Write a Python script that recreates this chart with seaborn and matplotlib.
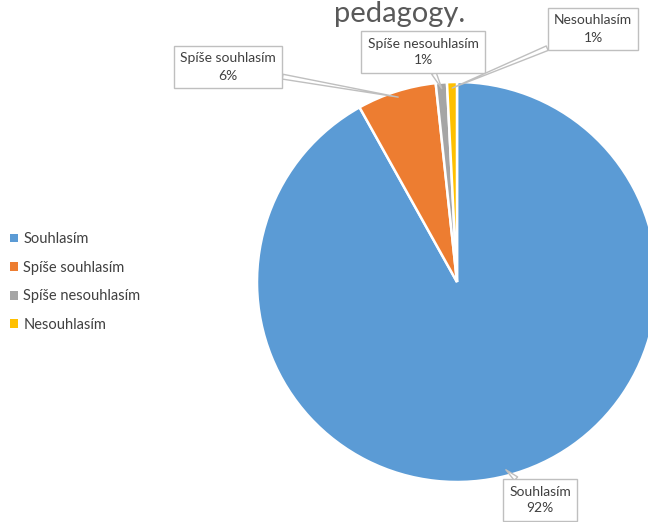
import matplotlib
matplotlib.use("Agg")
import matplotlib.pyplot as plt
import seaborn as sns
import numpy as np

# Data
categories = ["Souhlasím", "Spíše souhlasím", "Spíše nesouhlasím", "Nesouhlasím"]
values = [91.9, 6.4, 0.9, 0.8]
colours = ["#5B9BD5", "#ED7D31", "#A5A5A5", "#FFC000"]
title_text = "pedagogy."

# callout box centres (data coords of the pie axes)
label_pos = [(0.415, -1.09), (-1.145, 1.075), (-0.17, 1.15), (0.68, 1.265)]

sns.set_style("white")
plt.rcParams["font.family"] = ["Lato", "DejaVu Sans"]
text_col = "#404040"

fig = plt.figure(figsize=(6.48, 5.22), dpi=100)
W, H = 648, 522
cx, cy, r = 457, 282, 200
ax = fig.add_axes([(cx - r) / W, (H - cy - r) / H, 2 * r / W, 2 * r / H])

wedges, _ = ax.pie(values, colors=colours, startangle=90, counterclock=False,
                   radius=1, wedgeprops=dict(edgecolor="white", linewidth=1.8))
for w in wedges:
    w.set_clip_on(False)
ax.set_xlim(-1, 1)
ax.set_ylim(-1, 1)
ax.set_aspect("equal")
ax.axis("off")

total = sum(values)
for i, w in enumerate(wedges):
    ang = (w.theta1 + w.theta2) / 2.0
    x = 0.97 * np.cos(np.deg2rad(ang))
    y = 0.97 * np.sin(np.deg2rad(ang))
    pct = values[i] / total * 100
    ax.annotate(f"{categories[i]}\n{pct:.0f}%", xy=(x, y), xytext=label_pos[i],
                ha="center", va="center", fontsize=10, color=text_col,
                linespacing=1.5, annotation_clip=False,
                bbox=dict(boxstyle="square,pad=0.45", fc="white", ec="#BFBFBF", lw=1),
                arrowprops=dict(arrowstyle="wedge,tail_width=0.35", fc="white",
                                ec="#BFBFBF", lw=1, shrinkA=0, shrinkB=0),
                zorder=5)

fig.text(400 / W, (H - 22) / H, title_text, ha="center", va="baseline",
         fontsize=21, color="#595959")

leg = fig.legend(wedges, categories, loc="upper left",
                 bbox_to_anchor=(0.0, (H - 222) / H), frameon=False,
                 fontsize=10.5, handlelength=0.55, handleheight=0.55,
                 handletextpad=0.35, labelspacing=1.0, labelcolor=text_col,
                 borderaxespad=0.3)
for h in leg.legend_handles:
    h.set_linewidth(0)

fig.savefig("out.png", dpi=100)
